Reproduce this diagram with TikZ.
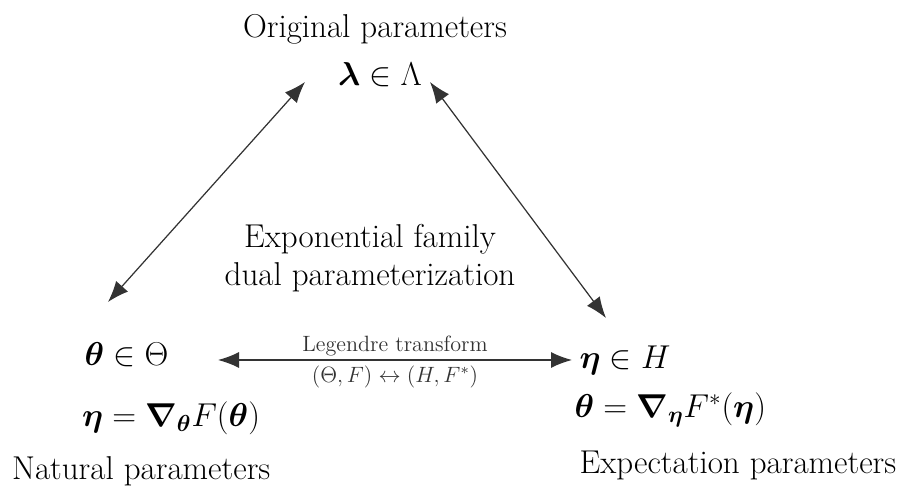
\RequirePackage{fix-cm}
\documentclass[tikz,border=0pt]{standalone}
\usepackage{amsmath,amssymb,bm}
\usetikzlibrary{arrows.meta}
\tikzset{
  big/.style={font=\fontsize{18.8}{22}\selectfont, inner sep=1pt},
  small/.style={font=\fontsize{12.6}{14}\selectfont, inner sep=1pt},
  dualarrow/.style={{Latex[length=4.2mm,width=3.2mm]}-{Latex[length=4.2mm,width=3.2mm]}, line width=0.7pt, black!80}
}
\begin{document}
\begin{tikzpicture}
    \useasboundingbox (0,0) rectangle (18,9.76);

    % 原参数
    \node[big] (orig) at (7.5,9.17) {Original parameters};
    \node[big] (lam) at (7.6,8.27) {$\bm{\lambda}\in\Lambda$};

    % 中间文字
    \node[big] (fam) at (7.4,4.97) {Exponential family};
    \node[big] (dual) at (7.4,4.22) {dual parameterization};

    % 自然参数
    \node[big, anchor=west] (theta) at (1.65,2.66) {$\bm{\theta}\in\Theta$};
    \node[big, anchor=west] (gradF) at (1.6,1.40) {$\bm{\eta}=\bm{\nabla}_{\bm{\theta}}F(\bm{\theta})$};
    \node[big, anchor=west] (nat) at (0.2,0.33) {Natural parameters};

    % 期望参数
    \node[big, anchor=west] (eta) at (11.55,2.56) {$\bm{\eta}\in H$};
    \node[big, anchor=west] (gradFs) at (11.45,1.57) {$\bm{\theta}=\bm{\nabla}_{\bm{\eta}}F^{*}(\bm{\eta})$};
    \node[big, anchor=west] (expt) at (11.55,0.45) {Expectation parameters};

    % 箭头端点
    \coordinate (lamL) at (6.1,8.12);
    \coordinate (lamR) at (8.6,8.12);
    \coordinate (thetaT) at (2.16,3.72);
    \coordinate (etaT) at (12.12,3.40);
    \coordinate (thetaR) at (4.36,2.56);
    \coordinate (etaL) at (11.44,2.56);

    % 箭头
    \draw[dualarrow] (lamL) -- (thetaT);
    \draw[dualarrow] (lamR) -- (etaT);
    \draw[dualarrow] (thetaR) -- (etaL)
        node[small, midway, above=1pt] (leg) {Legendre transform}
        node[small, midway, below=2pt] (map) {$(\Theta,F)\leftrightarrow(H,F^{*})$};
\end{tikzpicture}
\end{document}
